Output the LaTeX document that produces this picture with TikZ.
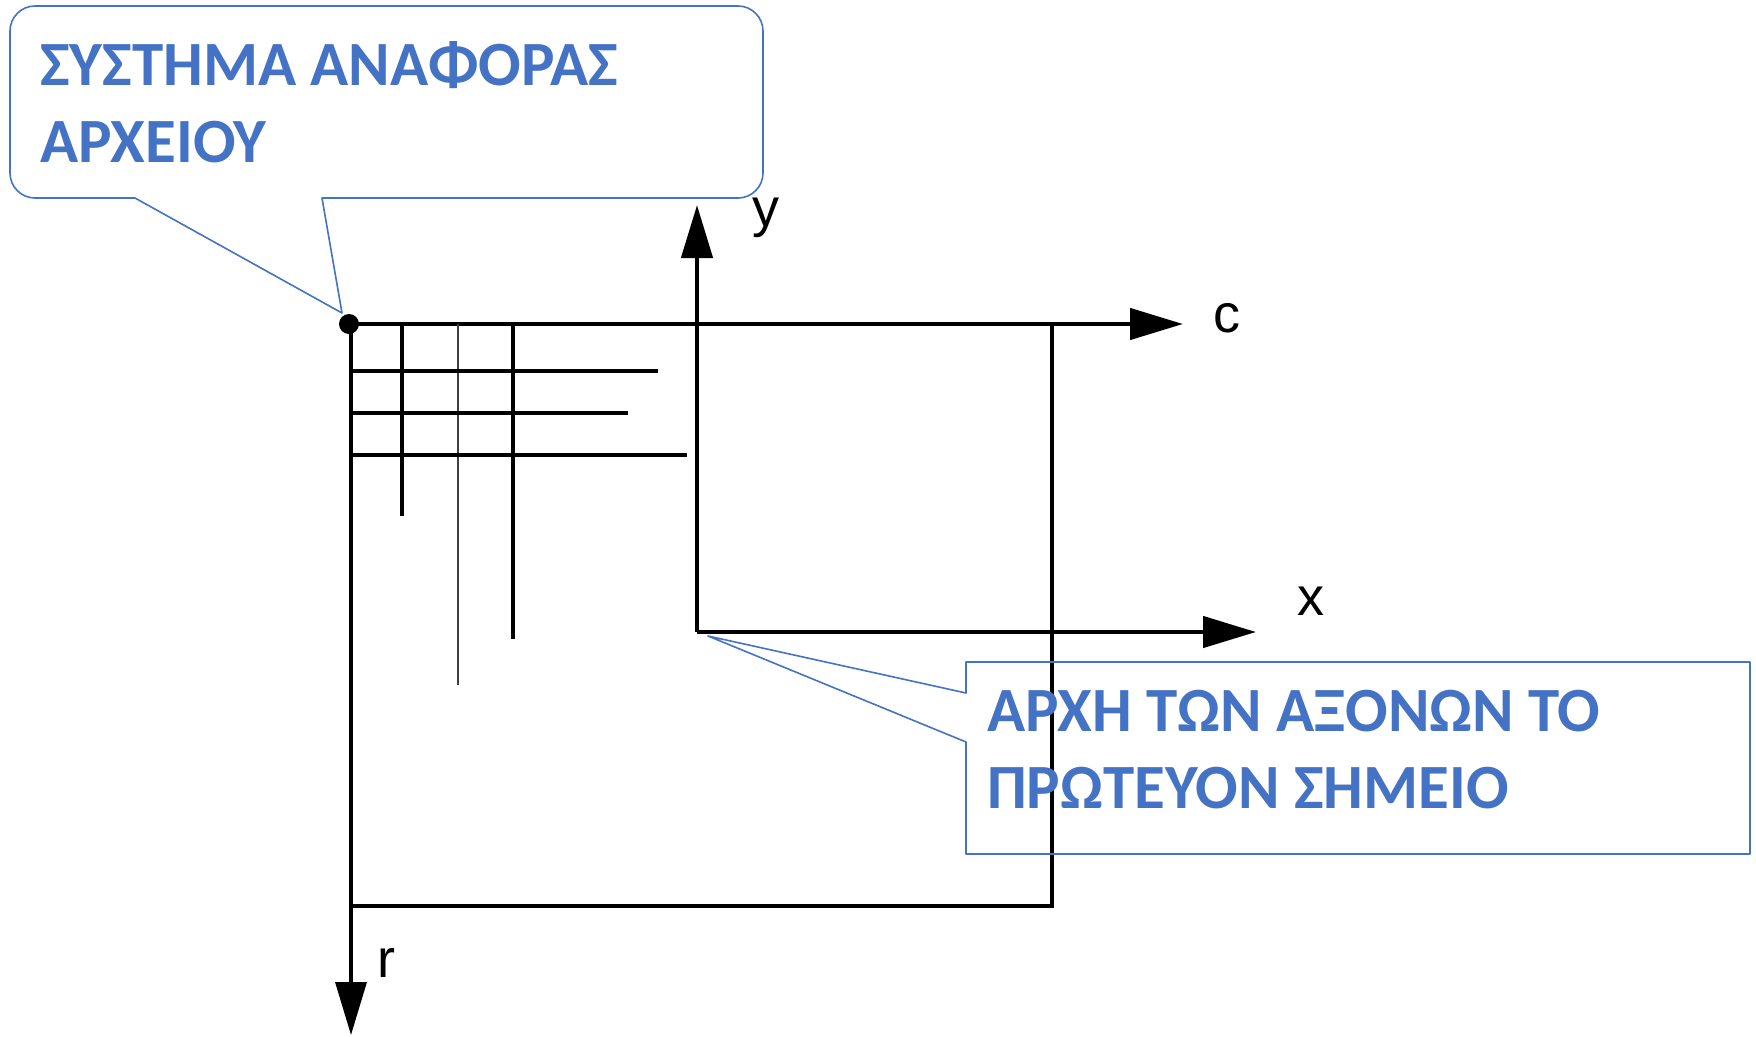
\documentclass[tikz,border=0pt]{standalone}
\usepackage{fontspec}
\setmainfont{Liberation Sans}
\newfontfamily\calloutfont{Carlito}
\usepackage{tikz}
\usetikzlibrary{arrows.meta}
\definecolor{callblue}{HTML}{4472C4}

\begin{document}
\begin{tikzpicture}[x=1pt,y=-1pt,>={Triangle[length=53pt,width=31pt]}]
 \tikzstyle{axis} = [line width=4.5pt]
 \tikzstyle{gridline} = [line width=3.5pt]
 \tikzstyle{callout} = [draw=callblue,line width=1.6pt,line join=round]
 \tikzstyle{calltext} = [text=callblue,font=\calloutfont\bfseries\fontsize{63}{77}\selectfont,align=left,inner sep=0,anchor=base west]
 \tikzstyle{axlabel} = [font=\fontsize{54}{60}\selectfont,inner sep=0,anchor=base west]
 \useasboundingbox (0,0) rectangle (1756,1036);

 % image frame with c and r axes
 \coordinate (fileorig) at (349,324);
 \coordinate (frameBL) at (351,906);
 \coordinate (frameBR) at (1052,906);
 \coordinate (frameTR) at (1052,324);
 \coordinate (cend) at (1183,324);
 \coordinate (rend) at (351,1035);
 \draw[axis,->] (fileorig) -- (cend);
 \draw[axis] (351,324) -- (frameBL) -- (frameBR) -- (frameTR);
 \draw[gridline,->] (frameBL) -- (rend);
 \fill (fileorig) circle (10);

 % pixel grid
 \draw[gridline] (402,324) -- (402,516);
 \draw[line width=2.5pt,black!75] (458,324) -- (458,685);
 \draw[gridline] (513,324) -- (513,639);
 \draw[gridline] (351,371) -- (658,371);
 \draw[gridline] (351,413) -- (628,413);
 \draw[gridline] (351,455) -- (687,455);

 % x,y axes at the principal point
 \coordinate (pp) at (697,632);
 \coordinate (yend) at (697,205);
 \coordinate (xend) at (1256,632);
 \draw[axis,->] (pp) -- (yend);
 \draw[axis,->] (pp) -- (xend);

 \node[axlabel] (ylab) at (752,226) {y};
 \node[axlabel] (clab) at (1213,332) {c};
 \node[axlabel] (xlab) at (1297,615) {x};
 \node[axlabel] (rlab) at (377,977) {r};

 % callouts
 \coordinate (reftip) at (342,313);
 \coordinate (origtip) at (708,636);
 \draw[callout] (reftip) -- (322,198) -- (400,198) [rounded corners=25pt] -- (763,198) -- (763,6)
   -- (10,6) -- (10,198) -- (100,198) [sharp corners] -- (135,198) -- cycle;
 \node[calltext] (reftext) at (40,162) {ΣΥΣΤΗΜΑ ΑΝΑΦΟΡΑΣ\\ΑΡΧΕΙΟΥ};

 \draw[callout] (966,693) -- (origtip) -- (966,742) -- (966,854) -- (1750,854) -- (1750,662)
   -- (966,662) -- cycle;
 \node[calltext] (origtext) at (987,808) {ΑΡΧΗ ΤΩΝ ΑΞΟΝΩΝ ΤΟ\\ΠΡΩΤΕΥΟΝ ΣΗΜΕΙΟ};
\end{tikzpicture}
\end{document}
